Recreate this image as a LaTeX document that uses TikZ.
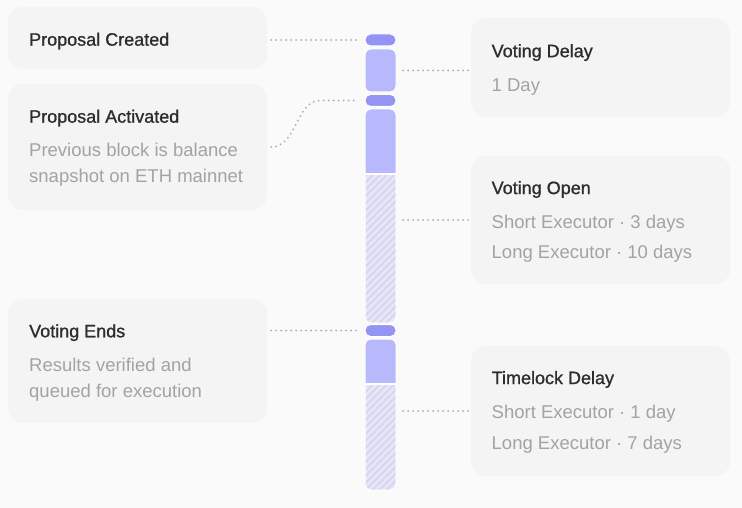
\documentclass[tikz,border=0pt]{standalone}
\usepackage{fontspec}
\setmainfont{Liberation Sans}
\newfontfamily\titlefont[FakeBold=1]{Liberation Sans}
\definecolor{bg}{HTML}{FAFAFA}
\definecolor{boxc}{HTML}{F4F4F4}
\definecolor{darkp}{HTML}{9494F5}
\definecolor{lightp}{HTML}{B8B8FC}
\definecolor{hatchbg}{HTML}{E6E6F7}
\definecolor{hatchln}{HTML}{D4D4F0}
\definecolor{titlec}{HTML}{2D2D2D}
\definecolor{subc}{HTML}{A3A3A3}
\definecolor{dotc}{HTML}{ABABAB}
\begin{document}
\begin{tikzpicture}[x=1pt,y=-1pt,
 card/.style={fill=boxc, rounded corners=15pt, inner sep=0pt, outer sep=0pt, anchor=north west, minimum width=259pt},
 ttl/.style={anchor=base west, inner sep=0pt, text=titlec, font=\titlefont\fontsize{18}{20}\selectfont},
 sub/.style={anchor=base west, inner sep=0pt, text=subc, font=\fontsize{18.5}{20}\selectfont},
 pill/.style={fill=darkp, draw=white, line width=1pt, rounded corners=5.5pt, minimum width=31pt, minimum height=12pt, inner sep=0pt, outer sep=0pt},
 block/.style={fill=lightp, draw=white, line width=1pt, rounded corners=6pt, minimum width=31pt, inner sep=0pt, outer sep=0pt},
 hatchline/.style={draw=hatchln, line width=1.6pt},
 dotline/.style={draw=dotc, line width=2pt, line cap=round, dash pattern=on 0pt off 5pt}]
\path[use as bounding box] (0,0) rectangle (742,508);
\fill[bg] (0,0) rectangle (742,508);

% cards left
\node[card, minimum height=62pt] (pc) at (8,7) {};
\node[card, minimum height=126pt] (pa) at (8,84) {};
\node[card, minimum height=124pt] (ve) at (8,299) {};
% cards right
\node[card, minimum height=99pt] (vd) at (471,18) {};
\node[card, minimum height=128pt] (vo) at (471,156) {};
\node[card, minimum height=130pt] (td) at (471,346) {};

% texts left
\node[ttl] (t1) at (29,45.7) {Proposal Created};
\node[ttl] (t2) at (29,122.7) {Proposal Activated};
\node[sub] (s2a) at (29,156.7) {Previous block is balance};
\node[sub] (s2b) at (29,182.7) {snapshot on ETH mainnet};
\node[ttl] (t3) at (29,337.3) {Voting Ends};
\node[sub] (s3a) at (29,371.5) {Results verified and};
\node[sub] (s3b) at (29,397.5) {queued for execution};
% texts right
\node[ttl] (t4) at (491.5,57.2) {Voting Delay};
\node[sub] (s4a) at (491.5,91.2) {1 Day};
\node[ttl] (t5) at (491.5,194.1) {Voting Open};
\node[sub] (s5a) at (491.5,228.1) {Short Executor · 3 days};
\node[sub] (s5b) at (491.5,258.4) {Long Executor · 10 days};
\node[ttl] (t6) at (491.5,384.1) {Timelock Delay};
\node[sub] (s6a) at (491.5,418) {Short Executor · 1 day};
\node[sub] (s6b) at (491.5,449.4) {Long Executor · 7 days};

% timeline
\node[pill] (p1) at (380.5,40) {};
\node[block, minimum height=43pt] (b1) at (380.5,70.5) {};
\node[pill] (p2) at (380.5,100.5) {};
\begin{scope}
\clip[rounded corners=6pt] (365,109) rectangle (396,323);
\fill[lightp] (365,109) rectangle (396,174);
\fill[hatchbg] (365,174) rectangle (396,323);
\clip (365,174) rectangle (396,323);
\foreach \i in {0,...,28} \draw[hatchline] (360,174+\i*7) -- ++(45,-45);
\end{scope}
\draw[white, line width=1pt, rounded corners=6pt] (365,109) rectangle (396,323);
\draw[white, line width=2pt] (365,174) -- (396,174);
\coordinate (c2) at (396,240);
\node[pill] (p3) at (380.5,330.5) {};
\begin{scope}
\clip[rounded corners=6pt] (365,339) rectangle (396,490);
\fill[lightp] (365,339) rectangle (396,383.5);
\fill[hatchbg] (365,383.5) rectangle (396,490);
\clip (365,383.5) rectangle (396,490);
\foreach \i in {0,...,22} \draw[hatchline] (360,383.5+\i*7) -- ++(45,-45);
\end{scope}
\draw[white, line width=1pt, rounded corners=6pt] (365,339) rectangle (396,490);
\draw[white, line width=2pt] (365,383.5) -- (396,383.5);
\coordinate (c3) at (396,430);

% connectors
\draw[dotline, shorten <=4pt, shorten >=8pt] (p1 -| pc.east) -- (p1.west);
\draw[dotline, shorten <=7pt, shorten >=2pt] (b1.east) -- (b1 -| vd.west);
\draw[dotline] ([xshift=4pt]pa.east) .. controls +(26,0) and +(-24,0) .. ([xshift=-45pt]p2.west) -- ([xshift=-8pt]p2.west);
\draw[dotline, shorten <=7pt, shorten >=2pt] (vo.west -| c2) -- (vo.west);
\draw[dotline, shorten <=4pt, shorten >=8pt] (p3 -| ve.east) -- (p3.west);
\draw[dotline, shorten <=7pt, shorten >=2pt] (td.west -| c3) -- (td.west);
\end{tikzpicture}
\end{document}
